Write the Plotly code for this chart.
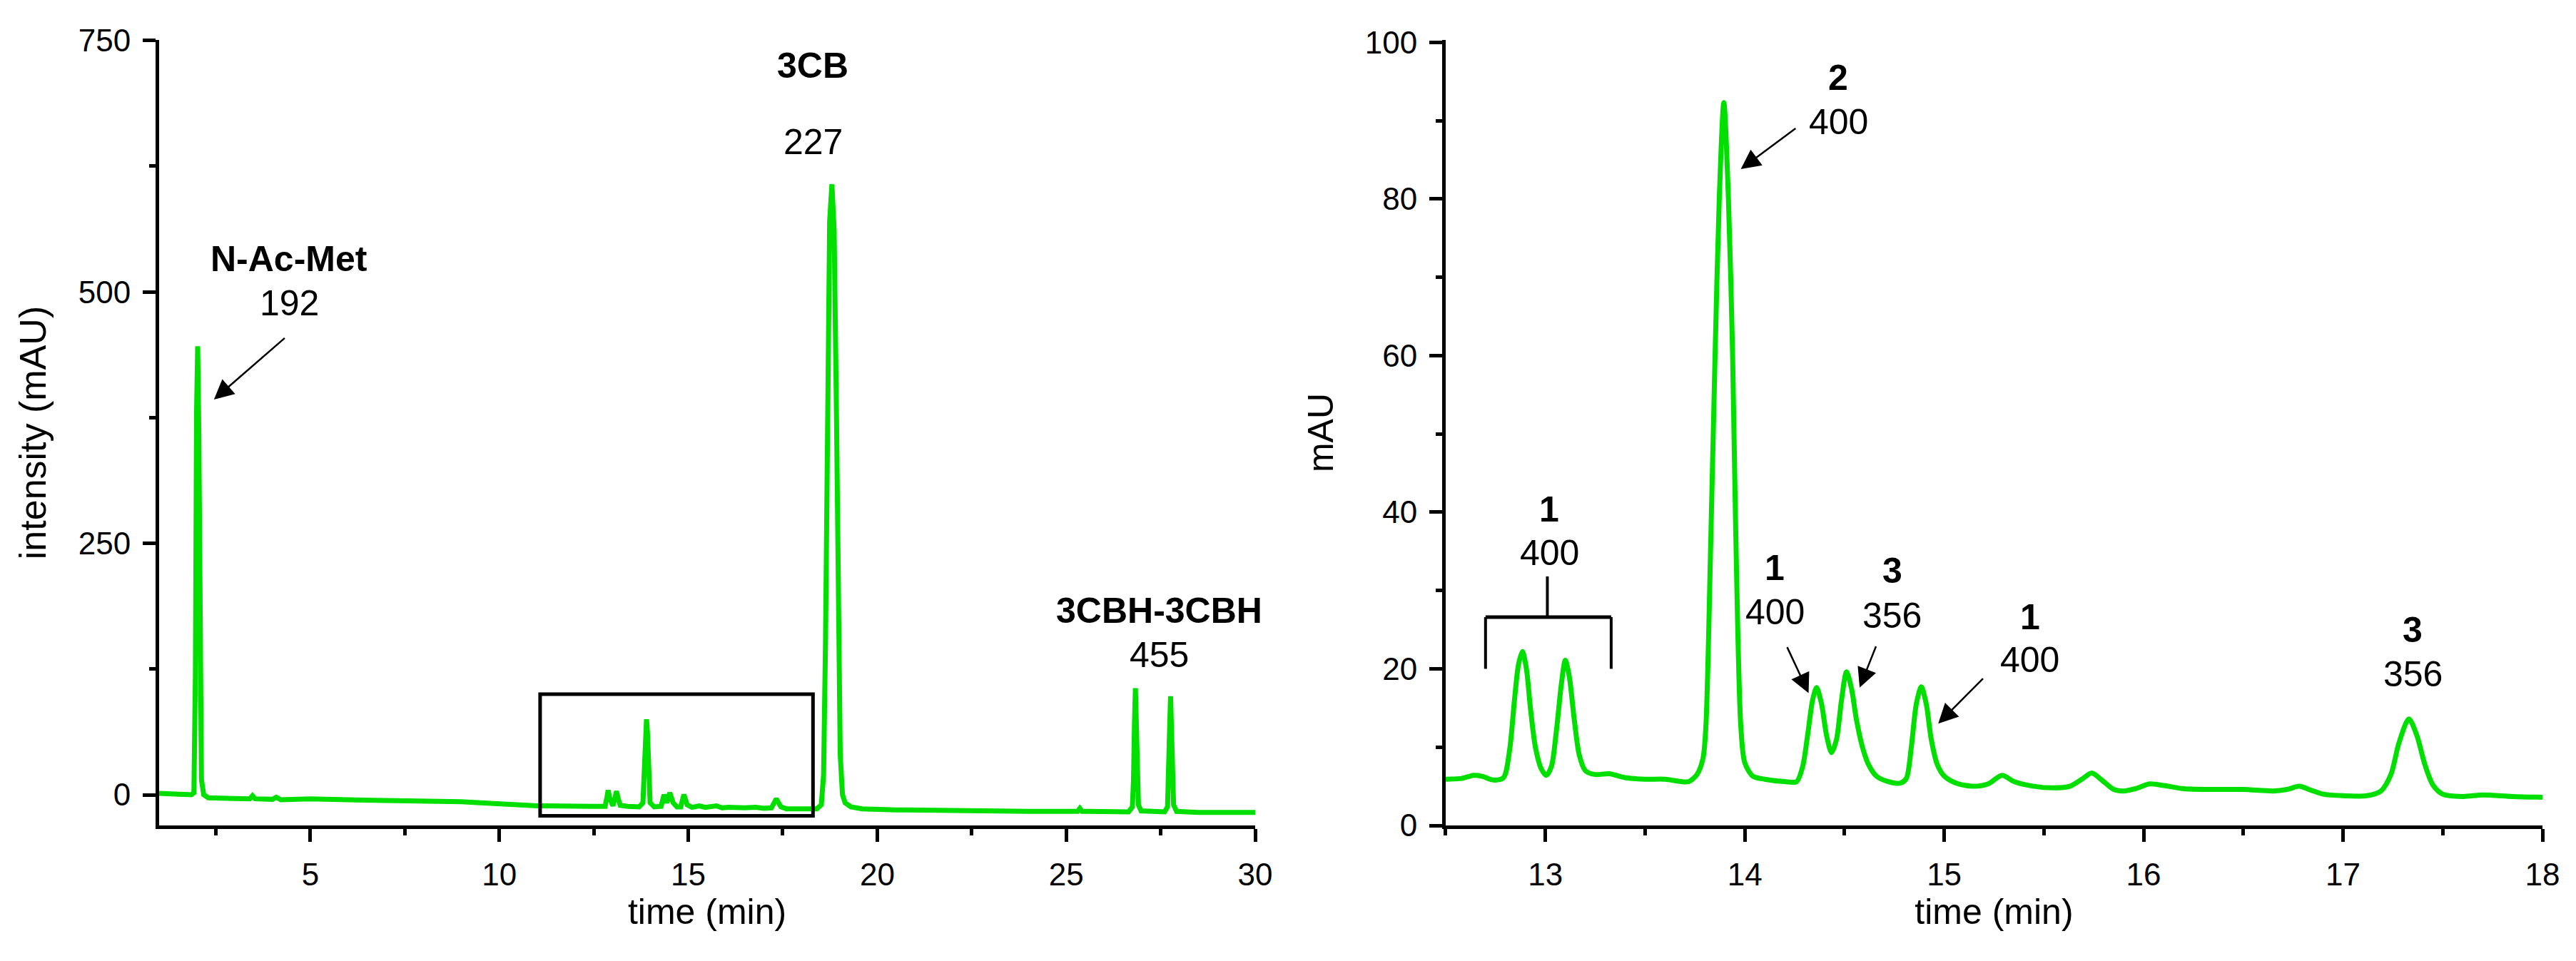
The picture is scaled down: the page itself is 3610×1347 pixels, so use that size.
import plotly.graph_objects as go

# ---------------- data ----------------
# Left panel: full chromatogram, time (min) vs intensity (mAU)
left_time = [1.00, 1.30, 1.60, 1.85, 1.92, 1.96, 1.99, 2.02, 2.05, 2.08, 2.12, 2.18, 2.30, 2.80,
             3.40, 3.47, 3.54, 4.00, 4.10, 4.22, 5.00, 6.00, 7.00, 8.00, 9.00, 9.50, 10.00, 10.50,
             11.00, 12.50, 12.80, 12.85, 12.88, 12.92, 12.97, 13.005, 13.05, 13.10, 13.14, 13.20,
             13.40, 13.70, 13.80, 13.84, 13.87, 13.895, 13.92, 13.95, 13.99, 14.10, 14.28, 14.36,
             14.435, 14.51, 14.60, 14.70, 14.80, 14.885, 14.97, 15.10, 15.29, 15.45, 15.74, 15.90,
             16.05, 16.50, 16.78, 17.00, 17.20, 17.33, 17.45, 17.60, 18.00, 18.40, 18.52, 18.58,
             18.63, 18.68, 18.74, 18.80, 18.86, 18.92, 18.97, 19.02, 19.08, 19.15, 19.30, 19.60,
             20.50, 22.00, 24.00, 25.30, 25.36, 25.42, 26.00, 26.65, 26.75, 26.78, 26.805, 26.83,
             26.855, 26.88, 26.91, 26.98, 27.60, 27.68, 27.71, 27.735, 27.76, 27.785, 27.81, 27.84,
             27.92, 28.50, 30.00]
left_signal = [1.5, 1.0, 0.5, 0.0, 2, 120, 380, 446, 360, 110, 15, 0, -3, -3.5,
               -4, -1, -4, -4.5, -2.5, -5, -4, -5, -5.5, -6, -7, -8, -9, -10.5,
               -11, -11.5, -11.5, -2, 4.5, -3, -10, -11, -5, 3.5, -3, -10.5,
               -11.5, -12, -8, 25, 62, 75, 62, 25, -8, -12, -11.5, 0,
               -8, 2, -8, -12, -12, 0.2, -10, -12.5, -11, -12.5, -11, -13,
               -12.5, -13, -12.5, -13.5, -13, -4, -12, -14, -14, -14, -10, 20,
               150, 400, 570, 607, 560, 380, 180, 40, 0, -8, -12, -14,
               -15, -16, -16.5, -16.5, -13.5, -16.5, -17, -17, -12, 15, 70, 106,
               70, 15, -10, -16, -17, -12, 15, 65, 98, 65, 15, -10,
               -16.5, -17.5, -17.5]

# Right panel: zoom 12.5-18 min, mAU
right_time = [12.50, 12.58, 12.64, 12.68, 12.74, 12.79, 12.82, 12.845, 12.865, 12.885, 12.905,
              12.925, 12.95, 12.98, 13.005, 13.03, 13.055, 13.08, 13.10, 13.12, 13.145, 13.17,
              13.20, 13.25, 13.32, 13.40, 13.50, 13.60, 13.68, 13.72, 13.76, 13.79, 13.805, 13.83,
              13.851, 13.872, 13.895, 13.918, 13.939, 13.955, 13.98, 14.00, 14.04, 14.10, 14.20,
              14.26, 14.29, 14.315, 14.34, 14.36, 14.385, 14.41, 14.435, 14.46, 14.485, 14.51,
              14.535, 14.56, 14.59, 14.62, 14.66, 14.72, 14.78, 14.81, 14.835, 14.86, 14.885,
              14.91, 14.935, 14.965, 15.00, 15.06, 15.15, 15.22, 15.29, 15.35, 15.45, 15.55,
              15.63, 15.69, 15.74, 15.79, 15.85, 15.90, 15.96, 16.03, 16.10, 16.20, 16.35, 16.50,
              16.65, 16.72, 16.78, 16.84, 16.90, 17.00, 17.12, 17.19, 17.24, 17.28, 17.33, 17.37,
              17.41, 17.45, 17.50, 17.60, 17.70, 17.85, 18.00]
right_signal = [5.9, 6.0, 6.4, 6.3, 5.8, 6.1, 9.5, 16.0, 20.5, 22.2, 20.0,
                15.0, 10.0, 7.2, 6.4, 7.5, 12.0, 18.0, 21.1, 19.0, 13.5, 9.0,
                7.0, 6.5, 6.6, 6.1, 5.9, 5.9, 5.6, 5.6, 6.5, 8.5, 12.7, 37.0,
                60.0, 80.0, 92.3, 80.0, 60.0, 37.0, 12.7, 8.0, 6.3, 5.9, 5.6,
                5.6, 7.5, 11.5, 16.0, 17.6, 15.5, 11.5, 9.3, 11.0, 16.0, 19.6,
                17.5, 13.5, 10.0, 7.8, 6.3, 5.6, 5.4, 6.0, 10.0, 15.5, 17.7,
                15.5, 11.0, 7.8, 6.3, 5.4, 5.0, 5.3, 6.4, 5.6, 5.0, 4.8,
                5.0, 5.9, 6.7, 5.8, 4.6, 4.4, 4.7, 5.3, 5.1, 4.7, 4.6, 4.6,
                4.4, 4.6, 5.0, 4.5, 4.0, 3.8, 3.8, 4.4, 6.5, 10.5, 13.6, 11.5,
                7.8, 5.2, 4.0, 3.7, 3.9, 3.7, 3.6]

# Left-panel peak labels: (bold name, number, x, y of name, y of number)
left_names = ["N-Ac-Met", "3CB", "3CBH-3CBH"]
left_numbers = ["192", "227", "455"]
left_label_x = [4.44, 18.30, 27.46]
left_name_y = [533, 725, 183]
left_number_y = [489, 649, 139]

# Right-panel peak labels
right_names = ["2", "1", "1", "3", "1", "3"]
right_numbers = ["400", "400", "400", "356", "400", "356"]
right_label_x = [14.47, 13.02, 14.15, 14.74, 15.43, 17.35]
right_name_y = [95.5, 40.4, 32.9, 32.5, 26.6, 25.0]
right_number_y = [89.8, 34.8, 27.2, 26.8, 21.1, 19.3]

# Arrows: (tail x, tail y, head x, head y)
left_arrows = [(4.35, 455, 2.45, 393)]
right_arrows = [(14.26, 89.1, 13.98, 83.8),
                (14.21, 22.9, 14.32, 16.9),
                (14.66, 23.0, 14.576, 17.6),
                (15.20, 18.9, 14.97, 13.0)]

# Inset box on the left panel and bracket on the right panel
box_x = [11.08, 18.30]
box_y = [-21, 100]
bracket_x = [12.70, 13.33]
bracket_stem_x = 13.01
bracket_y = [20.0, 26.6, 31.8]

GREEN = "#00DF00"
FONT = "Liberation Sans, Arial, sans-serif"

fig = go.Figure()
fig.add_trace(go.Scatter(x=left_time, y=left_signal, mode="lines",
                         line=dict(color=GREEN, width=7), xaxis="x", yaxis="y",
                         showlegend=False, hoverinfo="skip"))
fig.add_trace(go.Scatter(x=right_time, y=right_signal, mode="lines",
                         line=dict(color=GREEN, width=7, shape="spline", smoothing=0.8),
                         xaxis="x2", yaxis="y2", showlegend=False, hoverinfo="skip"))

axis_common = dict(showline=True, linecolor="black", linewidth=5, ticks="outside",
                   ticklen=18, tickwidth=5, tickcolor="black", showgrid=False, zeroline=False,
                   tickfont=dict(family=FONT, size=44, color="black"), ticklabelstandoff=8,
                   mirror=False)
minor_common = dict(ticklen=9, tickwidth=5, tickcolor="black", ticks="outside", tick0=0)

fig.update_layout(
    width=3594, height=1331,
    margin=dict(l=215, r=39, t=48, b=182),
    paper_bgcolor="white", plot_bgcolor="white",
    font=dict(family=FONT, color="black"),
    xaxis=dict(domain=[0, 0.4599], range=[1, 30], dtick=5, tick0=0,
               minor=dict(dtick=2.5, **minor_common),
               title=dict(text="time (min)", font=dict(size=50), standoff=12),
               anchor="y", **axis_common),
    yaxis=dict(domain=[0, 1], range=[-30.5, 750.5], dtick=250, tick0=0,
               minor=dict(dtick=125, **minor_common),
               title=dict(text="intensity (mAU)", font=dict(size=52), standoff=30),
               anchor="x", **axis_common),
    xaxis2=dict(domain=[0.5398, 1], range=[12.5, 18], dtick=1, tick0=0,
                minor=dict(dtick=0.5, **minor_common),
                title=dict(text="time (min)", font=dict(size=50), standoff=12),
                anchor="y2", **axis_common),
    yaxis2=dict(domain=[0, 1], range=[0, 100.3], dtick=20, tick0=0,
                minor=dict(dtick=10, **minor_common),
                title=dict(text="mAU", font=dict(size=50), standoff=30),
                anchor="x2", **axis_common),
)

annotations = []
for name, num, x, yn, yv in zip(left_names, left_numbers, left_label_x, left_name_y, left_number_y):
    annotations.append(dict(x=x, y=yn, xref="x", yref="y", text="<b>%s</b>" % name, showarrow=False,
                            font=dict(size=50, family=FONT, color="black")))
    annotations.append(dict(x=x, y=yv, xref="x", yref="y", text=num, showarrow=False,
                            font=dict(size=50, family=FONT, color="black")))
for name, num, x, yn, yv in zip(right_names, right_numbers, right_label_x, right_name_y, right_number_y):
    annotations.append(dict(x=x, y=yn, xref="x2", yref="y2", text="<b>%s</b>" % name, showarrow=False,
                            font=dict(size=50, family=FONT, color="black")))
    annotations.append(dict(x=x, y=yv, xref="x2", yref="y2", text=num, showarrow=False,
                            font=dict(size=50, family=FONT, color="black")))
for (tx, ty, hx, hy) in left_arrows:
    annotations.append(dict(x=hx, y=hy, ax=tx, ay=ty, xref="x", yref="y", axref="x", ayref="y",
                            text="", showarrow=True, arrowhead=2, arrowsize=2.2, arrowwidth=2.5,
                            arrowcolor="black", standoff=0, startstandoff=0))
for (tx, ty, hx, hy) in right_arrows:
    annotations.append(dict(x=hx, y=hy, ax=tx, ay=ty, xref="x2", yref="y2", axref="x2", ayref="y2",
                            text="", showarrow=True, arrowhead=2, arrowsize=2.2, arrowwidth=2.5,
                            arrowcolor="black", standoff=0, startstandoff=0))
fig.update_layout(annotations=annotations)

shapes = [
    dict(type="rect", xref="x", yref="y", x0=box_x[0], x1=box_x[1], y0=box_y[0], y1=box_y[1],
         line=dict(color="black", width=5)),
    dict(type="line", xref="x2", yref="y2", x0=bracket_x[0], x1=bracket_x[1],
         y0=bracket_y[1], y1=bracket_y[1], line=dict(color="black", width=5)),
    dict(type="line", xref="x2", yref="y2", x0=bracket_x[0], x1=bracket_x[0],
         y0=bracket_y[0], y1=bracket_y[1], line=dict(color="black", width=4)),
    dict(type="line", xref="x2", yref="y2", x0=bracket_x[1], x1=bracket_x[1],
         y0=bracket_y[0], y1=bracket_y[1], line=dict(color="black", width=4)),
    dict(type="line", xref="x2", yref="y2", x0=bracket_stem_x, x1=bracket_stem_x,
         y0=bracket_y[1], y1=bracket_y[2], line=dict(color="black", width=4)),
]
fig.update_layout(shapes=shapes)

fig.write_html("out.html")
